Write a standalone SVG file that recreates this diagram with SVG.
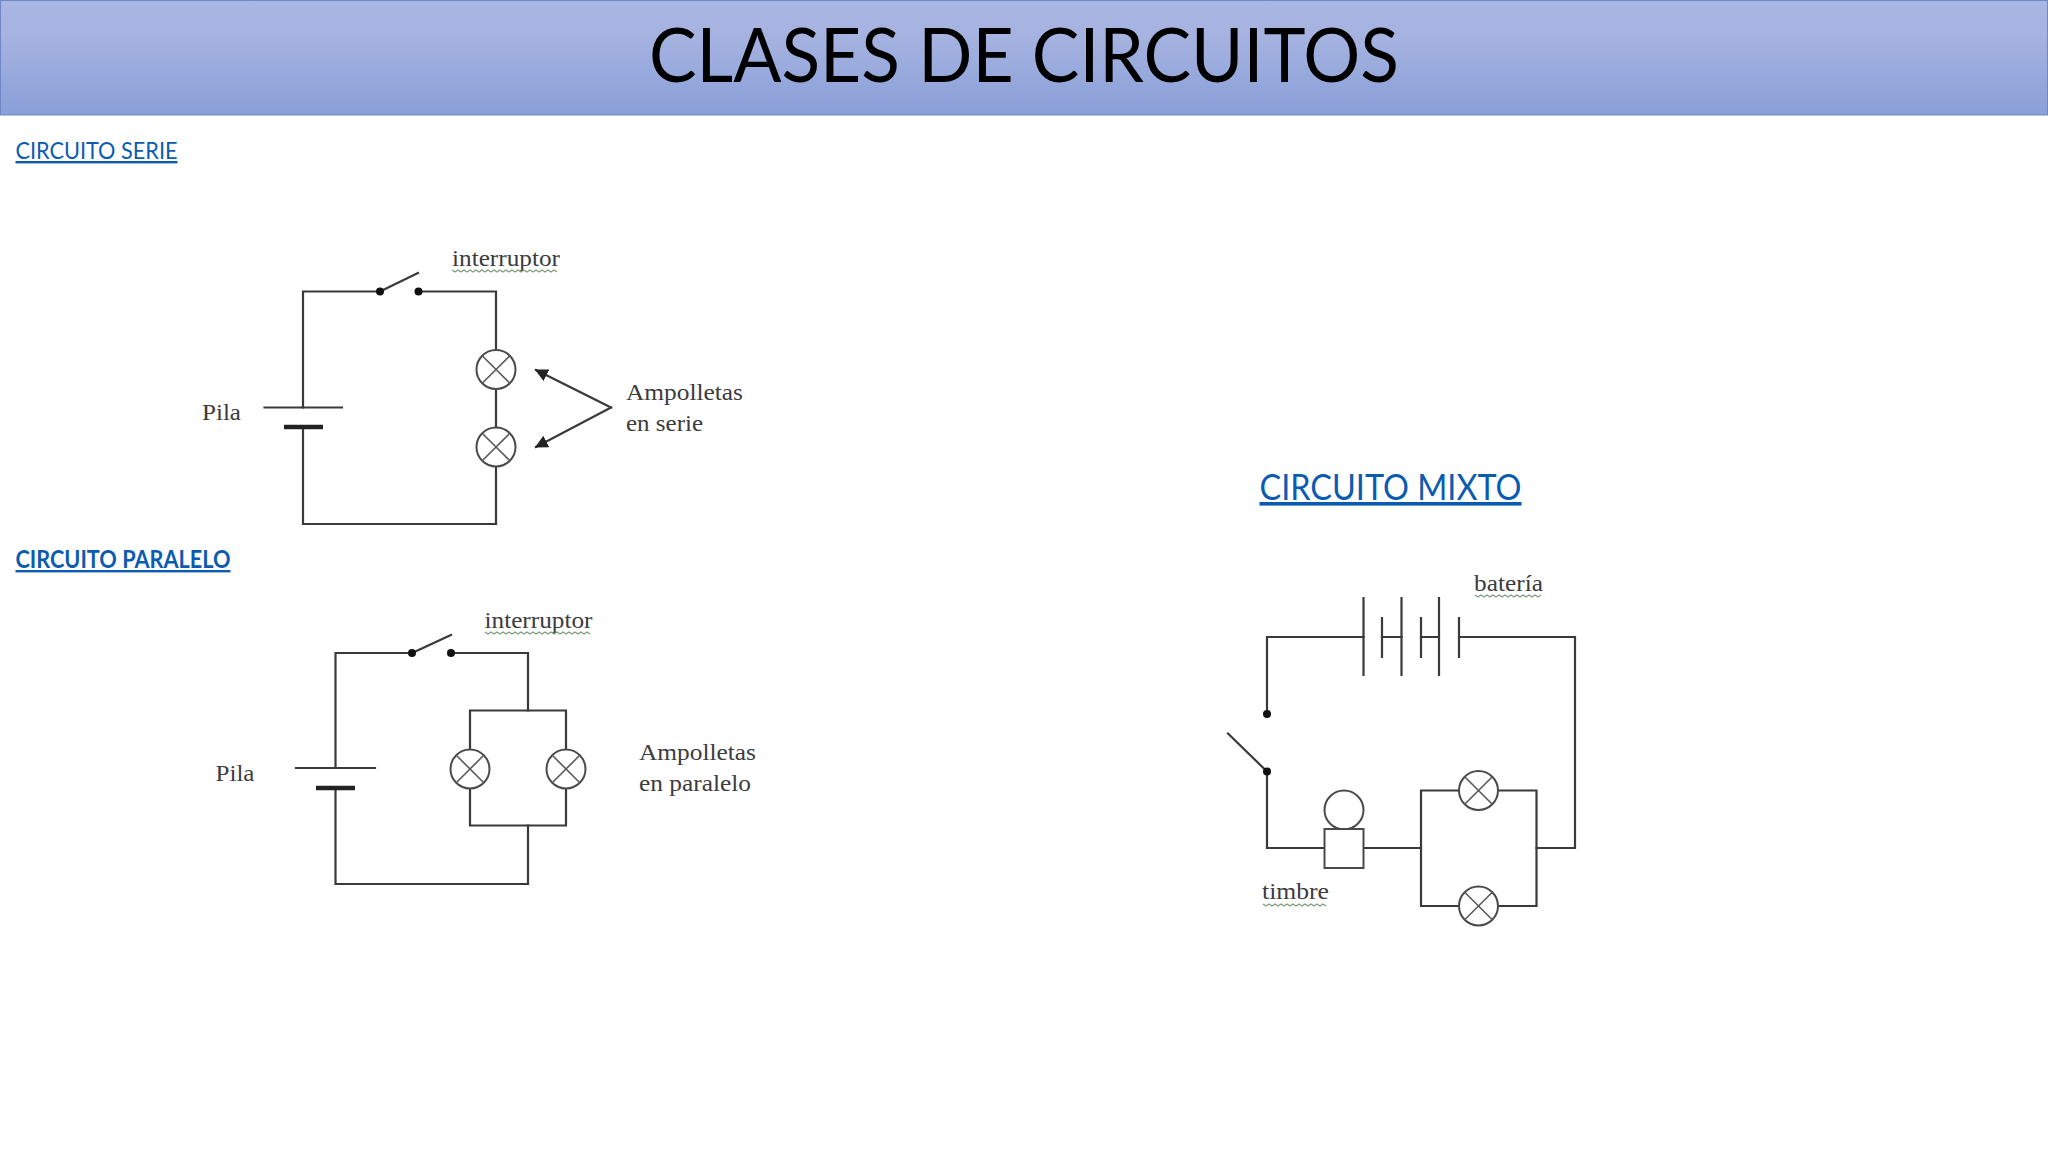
<svg xmlns="http://www.w3.org/2000/svg" width="2048" height="1152" viewBox="0 0 2048 1152">
<style>
.w{fill:none;stroke:#3a3a3a;stroke-width:2.2;stroke-linecap:square}
.l{fill:#fff;stroke:#4a4a4a;stroke-width:2}
.x{stroke:#5a5a5a;stroke-width:1.6}
.d{fill:#111}
.t{font-family:"Liberation Serif",serif;font-size:24px;fill:#3c3c3c}
.h{font-family:Lato,"Noto Sans",sans-serif;fill:#0b5cb0;text-decoration:underline}
.q{fill:none;stroke:#7f9f7f;stroke-width:1.4}
</style>
<defs>
<linearGradient id="hg" x1="0" y1="0" x2="0" y2="1"><stop offset="0" stop-color="#a9b6e2"/><stop offset="0.3" stop-color="#a6b3e0"/><stop offset="1" stop-color="#899fd8"/></linearGradient>
<g id="lamp"><circle r="19.5" class="l"/><path class="x" d="M-13.8-13.8 13.800 13.800M-13.8 13.800 13.800-13.800"/></g>
<marker id="ah" viewBox="0 0 10 10" refX="9" refY="5" markerWidth="13" markerHeight="13" markerUnits="userSpaceOnUse" orient="auto"><path d="M0 0 10 5 0 10z" fill="#222"/></marker>
</defs>
<rect width="2048" height="1152" fill="#fff"/>
<g id="header"><rect x="0.5" y="0.5" width="2047" height="114.500" fill="url(#hg)" stroke="#6f87c6"/>
<text x="1024" y="82" text-anchor="middle" font-family="Lato,'Noto Sans',sans-serif" font-size="76" fill="#000" textLength="750" lengthAdjust="spacingAndGlyphs">CLASES DE CIRCUITOS</text></g>
<g id="heading-serie"><text class="h" x="15.500" y="159" font-size="24" textLength="162" lengthAdjust="spacingAndGlyphs">CIRCUITO SERIE</text></g>
<g id="heading-paralelo"><text class="h" x="15.500" y="568" font-size="24" font-weight="700" textLength="215" lengthAdjust="spacingAndGlyphs">CIRCUITO PARALELO</text></g>
<g id="heading-mixto"><text class="h" x="1259.500" y="500" font-size="36" textLength="262" lengthAdjust="spacingAndGlyphs">CIRCUITO MIXTO</text></g>
<g id="connectors">
<path class="w" d="M380 291.500H303V407.500M303 427V524H496V466.500M496 427.500V389M496 350V291.500H418"/>
<path class="w" d="M611 407.500 536 370" marker-end="url(#ah)"/>
<path class="w" d="M611 407.500 536 447" marker-end="url(#ah)"/>
<path class="w" d="M412 653H335.500V768M335.500 788V884H528V825.500M528 710.500V653H451"/>
<path class="w" d="M470 749.500V710.500H566V749.500M470 788.500V825.500H566V788.500"/>
<path class="w" d="M1267 714V637H1363.500M1382 637H1401.500M1421 637H1439M1459 637H1575V848H1536.500M1267 771V848H1324.500M1363.500 848H1421"/>
<path class="w" d="M1459 790.500H1421V906H1459M1498 790.500H1536.500V906H1498"/>
</g>
<g id="serie-switch"><path class="w" d="M380 291.500 418 273"/><circle class="d" cx="380" cy="291.500" r="4"/><circle class="d" cx="418.500" cy="291.500" r="4"/></g>
<g id="serie-pila"><path class="w" d="M264.500 407.500H342"/><path d="M284 427H323" stroke="#222" stroke-width="4.500"/></g>
<g id="serie-lamp1"><use href="#lamp" x="496" y="369.500"/></g>
<g id="serie-lamp2"><use href="#lamp" x="496" y="447"/></g>
<g id="serie-labels"><text class="t" x="452" y="266" textLength="108" lengthAdjust="spacingAndGlyphs">interruptor</text><path class="q" d="M452 270l3 2 3-2 3 2 3-2 3 2 3-2 3 2 3-2 3 2 3-2 3 2 3-2 3 2 3-2 3 2 3-2 3 2 3-2 3 2 3-2 3 2 3-2 3 2 3-2 3 2 3-2 3 2 3-2 3 2 3-2 3 2 3-2 3 2 3-2 3 2"/>
<text class="t" x="202" y="420" textLength="39" lengthAdjust="spacingAndGlyphs">Pila</text><text class="t" x="626" y="400" textLength="117" lengthAdjust="spacingAndGlyphs">Ampolletas</text><text class="t" x="626" y="431" textLength="77" lengthAdjust="spacingAndGlyphs">en serie</text></g>
<g id="paralelo-switch"><path class="w" d="M412 653 451 635"/><circle class="d" cx="412" cy="653" r="4"/><circle class="d" cx="451" cy="653" r="4"/></g>
<g id="paralelo-pila"><path class="w" d="M296 768H375"/><path d="M316 788H355" stroke="#222" stroke-width="4.500"/></g>
<g id="paralelo-lamp1"><use href="#lamp" x="470" y="769"/></g>
<g id="paralelo-lamp2"><use href="#lamp" x="566" y="769"/></g>
<g id="paralelo-labels"><text class="t" x="484.500" y="628" textLength="108" lengthAdjust="spacingAndGlyphs">interruptor</text><path class="q" d="M485 632l3 2 3-2 3 2 3-2 3 2 3-2 3 2 3-2 3 2 3-2 3 2 3-2 3 2 3-2 3 2 3-2 3 2 3-2 3 2 3-2 3 2 3-2 3 2 3-2 3 2 3-2 3 2 3-2 3 2 3-2 3 2 3-2 3 2 3-2 3 2"/>
<text class="t" x="215.500" y="781" textLength="39" lengthAdjust="spacingAndGlyphs">Pila</text><text class="t" x="639" y="760" textLength="117" lengthAdjust="spacingAndGlyphs">Ampolletas</text><text class="t" x="639" y="791" textLength="112" lengthAdjust="spacingAndGlyphs">en paralelo</text></g>
<g id="mixto-bateria"><path class="w" d="M1363.500 598V675M1382 618V657M1401.500 598V675M1421 618V657M1439 598V675M1459 618V657"/><text class="t" x="1474" y="591" textLength="69" lengthAdjust="spacingAndGlyphs">batería</text><path class="q" d="M1475 595l3 2 3-2 3 2 3-2 3 2 3-2 3 2 3-2 3 2 3-2 3 2 3-2 3 2 3-2 3 2 3-2 3 2 3-2 3 2 3-2 3 2 3-2"/></g>
<g id="mixto-switch"><path class="w" d="M1267 771.500 1228 733.500"/><circle class="d" cx="1267" cy="714" r="4"/><circle class="d" cx="1267" cy="771.500" r="4"/></g>
<g id="mixto-timbre"><circle cx="1344" cy="810" r="19.500" class="l"/><rect x="1324.500" y="829" width="39" height="39" class="l"/><text class="t" x="1262" y="899" textLength="67" lengthAdjust="spacingAndGlyphs">timbre</text><path class="q" d="M1263 904l3 2 3-2 3 2 3-2 3 2 3-2 3 2 3-2 3 2 3-2 3 2 3-2 3 2 3-2 3 2 3-2 3 2 3-2 3 2 3-2 3 2"/></g>
<g id="mixto-lamp1"><use href="#lamp" x="1478.500" y="790.500"/></g>
<g id="mixto-lamp2"><use href="#lamp" x="1478.500" y="906"/></g>
</svg>
